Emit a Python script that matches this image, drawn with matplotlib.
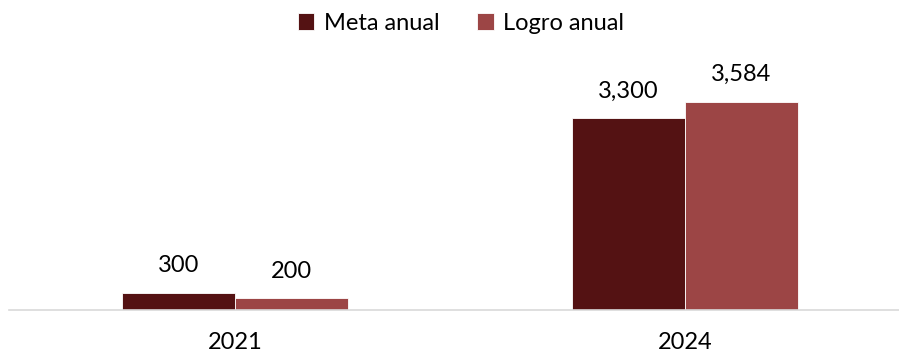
import matplotlib.pyplot as plt
import numpy as np

plt.rcParams['font.family'] = ['Lato', 'DejaVu Sans']

categories = ['2021', '2024']
series_names = ['Meta anual', 'Logro anual']
meta = [300, 3300]
logro = [200, 3584]
labels_meta = ['300', '3,300']
labels_logro = ['200', '3,584']
colors = ['#541213', '#9C4545']

W, H = 899, 354
fig = plt.figure(figsize=(W / 100, H / 100), dpi=100)
ax_left, ax_right = 9 / W, 899 / W
ax_bottom = 1 - 310 / H
ax_top = 1 - 60 / H
ax = fig.add_axes([ax_left, ax_bottom, ax_right - ax_left, ax_top - ax_bottom])

x = np.arange(len(categories))
bw = 0.251
b1 = ax.bar(x - bw / 2, meta, bw, color=colors[0], edgecolor='white', linewidth=0.6, label=series_names[0])
b2 = ax.bar(x + bw / 2, logro, bw, color=colors[1], edgecolor='white', linewidth=0.6, label=series_names[1])

for bars, labs in ((b1, labels_meta), (b2, labels_logro)):
    for r, t in zip(bars, labs):
        ax.annotate(t, (r.get_x() + r.get_width() / 2, r.get_height()),
                    xytext=(0, 12), textcoords='offset points',
                    ha='center', va='bottom', fontsize=17, color='black')

ax.set_xlim(-0.502, 1.476)
ax.set_ylim(0, 250 / (208 / 3584))
ax.set_xticks(x)
ax.set_xticklabels(categories, fontsize=17)
ax.tick_params(axis='x', length=0, pad=16)
ax.set_yticks([])
for s in ['top', 'right', 'left']:
    ax.spines[s].set_visible(False)
ax.spines['bottom'].set_color('#D9D9D9')
ax.spines['bottom'].set_linewidth(1.2)

leg = fig.legend(loc='center', bbox_to_anchor=(461 / W, 1 - 23 / H), ncol=2, frameon=False,
                 fontsize=17, handlelength=0.7, handleheight=0.7, handletextpad=0.4,
                 columnspacing=1.6)

fig.savefig('out.png', dpi=100)
